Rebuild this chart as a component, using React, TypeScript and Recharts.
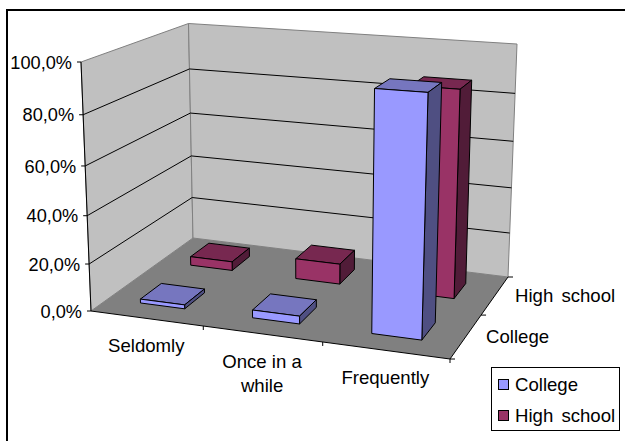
import React from 'react';
import { BarChart, Bar, XAxis, YAxis, Legend } from 'recharts';

const categories = ['Seldomly', 'Once in a while', 'Frequently'];
const college = [1.7, 3.3, 95];
const highSchool = [4, 9, 87];
const yTicks = [0, 20, 40, 60, 80, 100];
const seriesNames = ['College', 'High school'];

const chartData = categories.map((name, i) => ({
  name,
  College: college[i],
  'High school': highSchool[i],
}));

const WIDTH = 625;
const HEIGHT = 441;
const PLOT_LEFT = 40;
const PLOT_TOP = 40;
const PLOT_W = 545;
const PLOT_H = 361;
const FONT = '"Liberation Sans", Arial, sans-serif';
const TEXT_SIZE = 18.6;

// box corners on screen: floor then top, order = front-left, front-right, back-right, back-left
const FLOOR = [[91, 311], [450, 359], [508, 277], [193, 238]];
const TOP = [[81, 62], [459.5, 89], [517, 44], [188.5, 23.5]];

const stretch = (v: number) => (0.93 * v) / (1 - 0.07 * v);
const squeeze = (u: number) => (0.948 * u) / (1 - 0.052 * u);

// unit square -> quad, straight lines stay straight
function project(uRaw: number, v: number, w: number) {
  const u = squeeze(uRaw);
  const s = stretch(v);
  const q = FLOOR.map((p, i) => [
    p[0] + (TOP[i][0] - p[0]) * s,
    p[1] + (TOP[i][1] - p[1]) * s,
  ]);
  const dx1 = q[1][0] - q[2][0];
  const dx2 = q[3][0] - q[2][0];
  const sx = q[0][0] - q[1][0] + q[2][0] - q[3][0];
  const dy1 = q[1][1] - q[2][1];
  const dy2 = q[3][1] - q[2][1];
  const sy = q[0][1] - q[1][1] + q[2][1] - q[3][1];
  const den = dx1 * dy2 - dx2 * dy1;
  const g = (sx * dy2 - dx2 * sy) / den;
  const h = (dx1 * sy - sx * dy1) / den;
  const a = q[1][0] - q[0][0] + g * q[1][0];
  const b = q[3][0] - q[0][0] + h * q[3][0];
  const d = q[1][1] - q[0][1] + g * q[1][1];
  const e = q[3][1] - q[0][1] + h * q[3][1];
  const t = 1 + g * u + h * w;
  return [(q[0][0] + a * u + b * w) / t, (q[0][1] + d * u + e * w) / t];
}

const pts = (list: number[][]) => list.map((p) => `${p[0]},${p[1]}`).join(' ');

const seg = (a: number[], b: number[], stroke: string, key?: string) => (
  <line key={key} x1={a[0]} y1={a[1]} x2={b[0]} y2={b[1]} stroke={stroke} strokeWidth={1} />
);

// walls, floor, gridlines and the axis lines
const Backdrop = () => {
  const n = categories.length;
  const rows = seriesNames.length;
  return (
    <g>
      <polygon
        points={pts([project(0, 0, 0), project(0, 1, 0), project(0, 1, 1), project(0, 0, 1)])}
        fill="#C0C0C0"
        stroke="#808080"
      />
      <polygon
        points={pts([project(0, 0, 1), project(0, 1, 1), project(1, 1, 1), project(1, 0, 1)])}
        fill="#C0C0C0"
        stroke="#808080"
      />
      <polygon
        points={pts([project(0, 0, 0), project(1, 0, 0), project(1, 0, 1), project(0, 0, 1)])}
        fill="#808080"
      />
      {yTicks.slice(1, -1).map((t) => (
        <g key={t}>
          {seg(project(0, t / 100, 0), project(0, t / 100, 1), '#000')}
          {seg(project(0, t / 100, 1), project(1, t / 100, 1), '#000')}
        </g>
      ))}
      {seg(project(0, 1, 0), project(0, 0, 0), '#000')}
      {seg(project(0, 0, 0), project(1, 0, 0), '#000')}
      {seg(project(1, 0, 0), project(1, 0, 1), '#000')}
      {categories.map((_, i) => {
        const p = project((i + 1) / n, 0, 0);
        return seg(p, [p[0], p[1] + 4], '#000', `xt${i}`);
      })}
      {[0, 1, 2].map((i) => {
        const p = project(1, 0, i / rows);
        return seg(p, [p[0] + 5, p[1]], '#000', `zt${i}`);
      })}
      {seriesNames.map((name, i) => {
        const p = project(1, 0, (i + 0.5) / rows);
        return (
          <text key={name} x={p[0] + 20} y={p[1]} dy="0.36em" fontSize={TEXT_SIZE} wordSpacing={3} fontFamily={FONT} fill="#000">
            {name}
          </text>
        );
      })}
    </g>
  );
};

const YTick = (props: any) => {
  const { y, payload } = props;
  const p = project(0, (PLOT_TOP + PLOT_H - y) / PLOT_H, 0);
  return (
    <g>
      <line x1={p[0] - 4} y1={p[1]} x2={p[0]} y2={p[1]} stroke="#000" />
      <text x={p[0] - 9} y={p[1]} dy="0.36em" textAnchor="end" fontSize={18.2} fontFamily={FONT} fill="#000">
        {`${Number(payload.value).toFixed(1).replace('.', ',')}%`}
      </text>
    </g>
  );
};

const XTick = (props: any) => {
  const { x, payload } = props;
  const p = project((x - PLOT_LEFT) / PLOT_W, 0, 0);
  const label: string = payload.value;
  const cut = label.lastIndexOf(' ');
  const lines = label.length > 10 ? [label.slice(0, cut), label.slice(cut + 1)] : [label];
  return (
    <text textAnchor="middle" fontSize={TEXT_SIZE} fontFamily={FONT} fill="#000">
      {lines.map((line, i) => (
        <tspan key={line} x={p[0]} y={p[1] + 27 + i * 24.5} dy="0.36em">
          {line}
        </tspan>
      ))}
    </text>
  );
};

const box3d = (row: number, top: string, side: string) => (props: any) => {
  const { x, y, width, fill } = props;
  const u0 = (x - PLOT_LEFT) / PLOT_W;
  const u1 = (x + width - PLOT_LEFT) / PLOT_W;
  const v = (PLOT_TOP + PLOT_H - y) / PLOT_H;
  const w0 = (row + 0.3) / seriesNames.length;
  const w1 = (row + 0.7) / seriesNames.length;
  return (
    <g stroke="#000" strokeWidth={1} strokeLinejoin="round">
      <polygon points={pts([project(u0, v, w0), project(u1, v, w0), project(u1, v, w1), project(u0, v, w1)])} fill={top} />
      <polygon points={pts([project(u1, 0, w0), project(u1, 0, w1), project(u1, v, w1), project(u1, v, w0)])} fill={side} />
      <polygon points={pts([project(u0, 0, w0), project(u1, 0, w0), project(u1, v, w0), project(u0, v, w0)])} fill={fill} />
    </g>
  );
};

const LegendBox = ({ payload }: any) => {
  const items = seriesNames.map((n) => (payload || []).find((p: any) => p.value === n)).filter(Boolean);
  return (
    <div style={{ boxSizing: 'border-box', width: 129, height: 64, border: '1px solid #000', background: '#fff', fontFamily: FONT, fontSize: TEXT_SIZE, wordSpacing: 3, paddingTop: 1 }}>
      {items.map((item: any) => (
        <div key={item.value} style={{ display: 'flex', alignItems: 'center', height: 31, paddingLeft: 6, whiteSpace: 'nowrap' }}>
          <span style={{ boxSizing: 'border-box', width: 11, height: 11, background: item.color, border: '1px solid #000', marginRight: 6 }} />
          {item.value}
        </div>
      ))}
    </div>
  );
};

export default function App() {
  return (
    <div style={{ position: 'absolute', left: 0, top: 0, width: WIDTH, height: HEIGHT, background: '#fff', overflow: 'hidden' }}>
      <div style={{ position: 'absolute', left: 6, top: 9, width: WIDTH, height: HEIGHT, borderLeft: '2px solid #000', borderTop: '2px solid #000' }} />
      <BarChart
        width={WIDTH}
        height={HEIGHT}
        data={chartData}
        margin={{ top: PLOT_TOP, right: 40, left: 0, bottom: 0 }}
        barCategoryGap="30%"
        style={{ position: 'absolute', left: 0, top: 0 }}
      >
        <Backdrop />
        <XAxis xAxisId="back" dataKey="name" hide />
        <XAxis xAxisId="front" dataKey="name" height={40} axisLine={false} tickLine={false} tick={<XTick />} interval={0} />
        <YAxis domain={[0, 100]} ticks={yTicks} width={40} axisLine={false} tickLine={false} tick={<YTick />} />
        <Bar xAxisId="back" dataKey="High school" name="High school" fill="#993366" isAnimationActive={false} shape={box3d(1, '#772850', '#511C38')} />
        <Bar xAxisId="front" dataKey="College" name="College" fill="#9999FF" isAnimationActive={false} shape={box3d(0, '#7676BF', '#4F4F82')} />
        <Legend
          layout="horizontal"
          verticalAlign="middle"
          wrapperStyle={{ left: 491, top: 367, width: 129, height: 64 }}
          content={<LegendBox />}
        />
      </BarChart>
    </div>
  );
}
